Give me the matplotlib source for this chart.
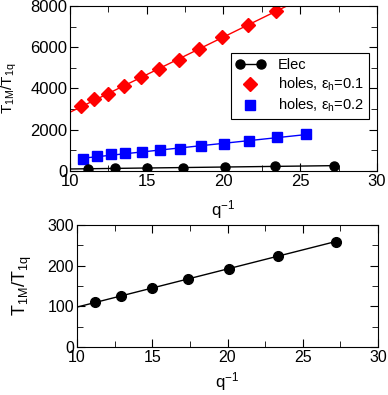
import matplotlib
matplotlib.use("Agg")
import matplotlib.pyplot as plt
import numpy as np
from matplotlib.lines import Line2D
from matplotlib.legend_handler import HandlerLine2D
from matplotlib.ticker import MultipleLocator

plt.rcParams['font.family'] = ['Liberation Sans', 'DejaVu Sans']
plt.rcParams['mathtext.fontset'] = 'custom'
plt.rcParams['mathtext.rm'] = 'Liberation Sans'
plt.rcParams['mathtext.it'] = 'Liberation Sans'
plt.rcParams['mathtext.bf'] = 'Liberation Sans:bold'

# data
elec_x = [11.2, 12.95, 15.0, 17.35, 20.1, 23.35, 27.2]
elec_y = [110, 125, 145, 167, 193, 224, 259]

holes1_x = [10.72, 11.59, 12.46, 13.54, 14.63, 15.83, 17.07, 18.43, 19.93, 21.57, 23.39]
holes1_y = [3150, 3480, 3720, 4100, 4540, 4940, 5400, 5920, 6490, 7070, 7760]

holes2_x = [10.87, 11.78, 12.65, 13.61, 14.67, 15.89, 17.17, 18.54, 20.04, 21.65, 23.48, 25.39]
holes2_y = [600, 715, 800, 850, 930, 1010, 1090, 1220, 1300, 1450, 1640, 1800]


def fit_line(x, y, x0, x1):
    p = np.polyfit(x, y, 1)
    xx = np.array([x0, x1])
    return xx, np.polyval(p, xx)


def style_axes(ax, ymajor, yminor, tsize, lsize, ypad, xpad):
    ax.set_xlim(10, 30)
    ax.xaxis.set_major_locator(MultipleLocator(5))
    ax.xaxis.set_minor_locator(MultipleLocator(2.5))
    ax.yaxis.set_major_locator(MultipleLocator(ymajor))
    ax.yaxis.set_minor_locator(MultipleLocator(yminor))
    ax.tick_params(which='both', direction='in', top=True, right=True, labelsize=tsize)
    ax.tick_params(which='major', length=6, pad=2)
    ax.tick_params(which='minor', length=4)
    ax.set_xlabel('q$^{-1}$', fontsize=12, labelpad=xpad)
    ax.set_ylabel('T$_{1M}$/T$_{1q}$', fontsize=lsize, labelpad=ypad)


fig = plt.figure(figsize=(3.88, 3.95), dpi=100)

ax1 = fig.add_axes([0.1804, 0.5671, 0.7912, 0.4177])
xx, yy = fit_line(holes1_x, holes1_y, 10, 30)
ax1.plot(xx, yy, color='red', lw=1)
ax1.plot(holes1_x, holes1_y, 'D', color='red', ms=7, mec='red')
xx, yy = fit_line(holes2_x, holes2_y, holes2_x[0], holes2_x[-1])
ax1.plot(xx, yy, color='blue', lw=1)
ax1.plot(holes2_x, holes2_y, 's', color='blue', ms=7)
xx, yy = fit_line(elec_x, elec_y, 10, elec_x[-1])
ax1.plot(xx, yy, color='black', lw=1)
ax1.plot(elec_x, elec_y, 'o', color='black', ms=6.5)
ax1.set_ylim(0, 8000)
style_axes(ax1, 2000, 1000, 12, 11, 8, 7)

h_elec = Line2D([0], [0], color='black', marker='o', ms=6.5, lw=1)
h_h1 = Line2D([0], [0], color='red', marker='D', ms=7, lw=0)
h_h2 = Line2D([0], [0], color='blue', marker='s', ms=7, lw=0)
labels = ['Elec', 'holes, $\\mathrm{ε}_h$=0.1', 'holes, $\\mathrm{ε}_h$=0.2']
leg = ax1.legend([h_elec, h_h1, h_h2], labels, loc='upper left',
                 bbox_to_anchor=(0.5, 0.76), fontsize=10.5,
                 handler_map={h_elec: HandlerLine2D(numpoints=2),
                              h_h1: HandlerLine2D(numpoints=1),
                              h_h2: HandlerLine2D(numpoints=1)},
                 frameon=True, fancybox=False, edgecolor='black', framealpha=1,
                 handlelength=2.0, borderpad=0.35, labelspacing=0.25,
                 handletextpad=0.9)
leg.get_frame().set_linewidth(0.8)

ax2 = fig.add_axes([0.1985, 0.1215, 0.7758, 0.3089])
xx, yy = fit_line(elec_x, elec_y, 10, elec_x[-1])
ax2.plot(xx, yy, color='black', lw=1)
ax2.plot(elec_x, elec_y, 'o', color='black', ms=7)
ax2.set_ylim(0, 300)
style_axes(ax2, 100, 50, 11.5, 13, 10, 4)

fig.savefig('out.png', dpi=100)
